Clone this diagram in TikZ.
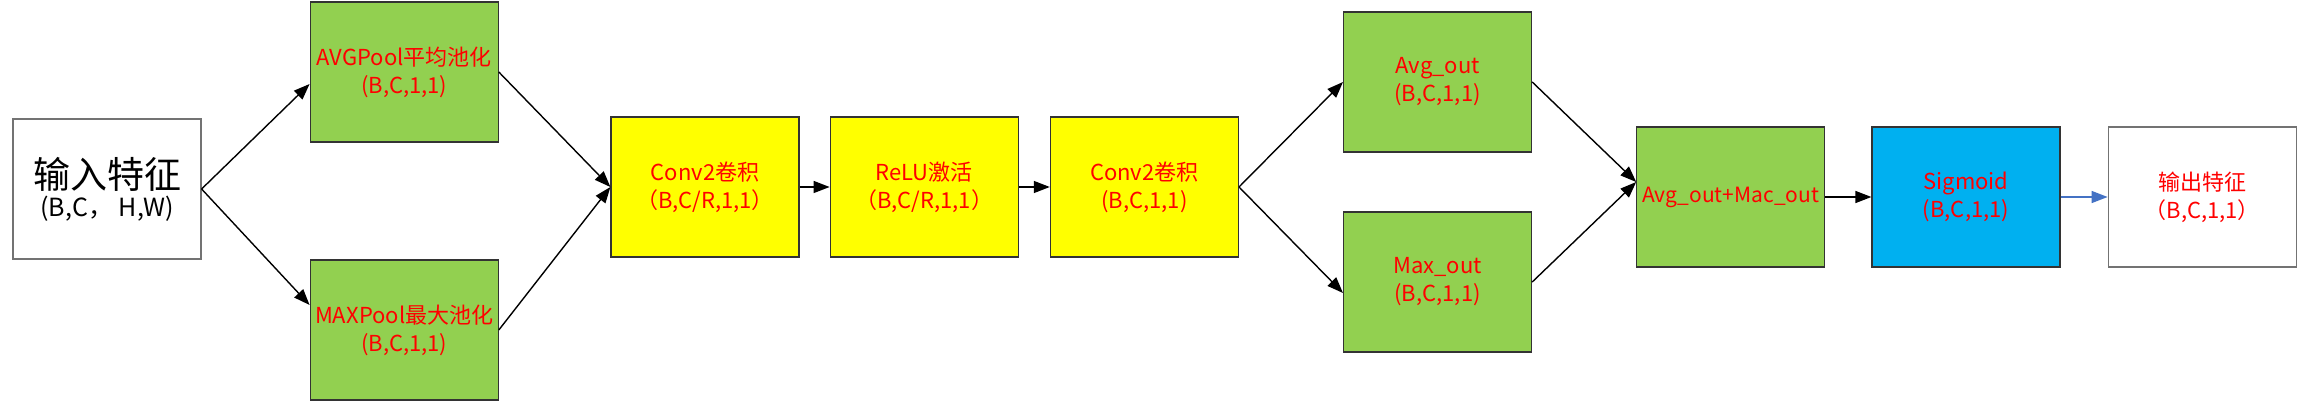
\documentclass[tikz,border=0pt]{standalone}
\usepackage{fontspec}
\newfontfamily\cjk{Noto Sans CJK SC}
\usetikzlibrary{arrows.meta,positioning}
\definecolor{boxgreen}{HTML}{92D050}
\definecolor{boxyellow}{HTML}{FFFF00}
\definecolor{boxblue}{HTML}{00B0F0}
\definecolor{arrowblue}{HTML}{4472C4}

\begin{document}
\begin{tikzpicture}[
  x=1pt, y=1pt,
  blk/.style={draw=black!80, line width=1.2pt,
              minimum width=188pt, minimum height=140pt, inner sep=0pt,
              align=center, text=red, font=\cjk\fontsize{22}{28}\selectfont},
  gbox/.style={blk, fill=boxgreen},
  ybox/.style={blk, fill=boxyellow},
  bluebox/.style={blk, fill=boxblue},
  wbox/.style={blk, draw=black!55, fill=white},
  arr/.style={-{Triangle[length=16pt,width=12pt]}, line width=1.4pt},
]
  \useasboundingbox (0,0) rectangle (2297,402);
  \node[wbox, text=black] (in) at (107,213) {\fontsize{37}{40}\selectfont 输入特征\\\fontsize{25}{38}\selectfont (B,C， H,W)};
  \node[gbox, right=108pt of in, yshift=117pt] (avg) {AVGPool平均池化\\(B,C,1,1)};
  \node[gbox, right=108pt of in, yshift=-141pt] (max) {MAXPool最大池化\\(B,C,1,1)};
  \node[ybox] (conv1) at (705,215) {Conv2卷积\\（B,C/R,1,1）};
  \node[ybox, right=30pt of conv1] (relu) {ReLU激活\\（B,C/R,1,1）};
  \node[ybox, right=31pt of relu] (conv2) {Conv2卷积\\(B,C,1,1)};
  \node[gbox, right=104pt of conv2, yshift=105pt] (avgout) {Avg\_out\\(B,C,1,1)};
  \node[gbox, right=104pt of conv2, yshift=-95pt] (maxout) {Max\_out\\(B,C,1,1)};
  \node[gbox, right=104pt of avgout, yshift=-115pt, font=\cjk\fontsize{21}{28}\selectfont] (sum) {Avg\_out+Mac\_out};
  \node[bluebox, right=46pt of sum] (sig) {Sigmoid\\(B,C,1,1)};
  \node[wbox, right=47pt of sig] (out) {输出特征\\（B,C,1,1）};
  \draw[arr] (in.east) -- ([yshift=-12pt]avg.west);
  \draw[arr] (in.east) -- ([yshift=25pt]max.west);
  \draw[arr] (avg.east) -- (conv1.west);
  \draw[arr] (max.east) -- (conv1.west);
  \draw[arr] (conv1) -- (relu);
  \draw[arr] (relu) -- (conv2);
  \draw[arr] (conv2.east) -- (avgout.west);
  \draw[arr] (conv2.east) -- ([yshift=-11pt]maxout.west);
  \draw[arr] (avgout.east) -- ([yshift=15pt]sum.west);
  \draw[arr] (maxout.east) -- ([yshift=15pt]sum.west);
  \draw[arr] (sum) -- (sig);
  \draw[arr, arrowblue] (sig) -- (out);
\end{tikzpicture}
\end{document}
